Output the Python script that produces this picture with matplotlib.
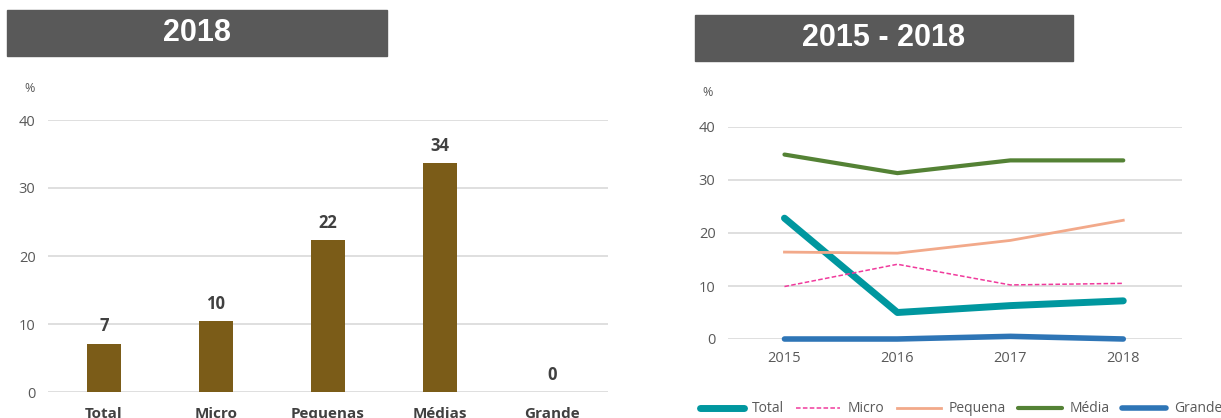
import numpy as np
import matplotlib.pyplot as plt
from matplotlib.patches import Rectangle

# dados 2018
categorias = ['Total', 'Micro', 'Pequenas', 'Médias', 'Grande']
valores_2018 = [7.1, 10.4, 22.3, 33.7, 0.0]

# dados 2015 - 2018
anos = ['2015', '2016', '2017', '2018']
serie_total = [22.8, 5.0, 6.3, 7.2]
serie_micro = [9.9, 14.1, 10.2, 10.5]
serie_pequena = [16.4, 16.2, 18.6, 22.4]
serie_media = [34.8, 31.3, 33.7, 33.7]
serie_grande = [0.0, 0.0, 0.5, 0.0]

CINZA = '#595959'
GRADE = '#D9D9D9'
FONTE = 'Open Sans'

fig = plt.figure(figsize=(12.21, 4.18), dpi=100)

# caixas de titulo
W, H = 1221, 418
def caixa_titulo(x0, y0, x1, y1, texto):
    fig.patches.append(Rectangle((x0 / W, 1 - y1 / H), (x1 - x0) / W, (y1 - y0) / H,
                                 transform=fig.transFigure, color=CINZA, zorder=0))
    fig.text((x0 + x1) / 2 / W, 1 - (y0 + y1) / 2 / H, texto, color='white',
             fontsize=22, fontweight='bold', family='Liberation Sans',
             ha='center', va='center')

caixa_titulo(7, 10, 387, 56, '2018')
caixa_titulo(695, 15, 1073, 61, '2015 - 2018')

# grafico de barras
ax1 = fig.add_axes([48 / W, 1 - 392 / H, 560 / W, 272 / H])
x = np.arange(len(categorias))
ax1.bar(x, valores_2018, width=0.31, color='#7B5C18', zorder=3)
for xi, v in zip(x, valores_2018):
    ax1.annotate(f'{round(v):.0f}', (xi, v), xytext=(0, 6), textcoords='offset points',
                 ha='center', va='bottom', fontsize=12, fontweight='bold',
                 color='#404040', family=FONTE)
ax1.set_xlim(-0.5, 4.5)
ax1.set_ylim(0, 40)
ax1.set_yticks([0, 10, 20, 30, 40])
ax1.set_xticks(x)
ax1.set_xticklabels(categorias, fontsize=11, fontweight='bold', color='#404040', family=FONTE)
ax1.tick_params(axis='x', length=0, pad=11)
ax1.tick_params(axis='y', length=0, pad=9, labelsize=10.5, labelcolor=CINZA)
for lab in ax1.get_yticklabels():
    lab.set_family(FONTE)
ax1.grid(axis='y', color=GRADE, linewidth=1.2, zorder=0)
for s in ax1.spines.values():
    s.set_visible(False)
fig.text(30 / W, 1 - 88 / H, '%', fontsize=9, color=CINZA, ha='center', va='center', family=FONTE)

# grafico de linhas
ax2 = fig.add_axes([728 / W, 1 - 339 / H, 454 / W, 212 / H])
xa = np.arange(len(anos))
ax2.plot(xa, serie_total, color='#00979F', linewidth=5, solid_capstyle='round', label='Total', zorder=3, clip_on=False)
ax2.plot(xa, serie_micro, color='#F03A9C', linewidth=1.1, linestyle=(0, (3, 1.5)), label='Micro', zorder=3, clip_on=False)
ax2.plot(xa, serie_pequena, color='#F2A98A', linewidth=2, label='Pequena', zorder=3, clip_on=False)
ax2.plot(xa, serie_media, color='#548235', linewidth=3, solid_capstyle='round', label='Média', zorder=3, clip_on=False)
ax2.plot(xa, serie_grande, color='#2E75B6', linewidth=4, solid_capstyle='round', label='Grande', zorder=3, clip_on=False)
ax2.set_xlim(-0.5, 3.52)
ax2.set_ylim(0, 40)
ax2.set_yticks([0, 10, 20, 30, 40])
ax2.set_xticks(xa)
ax2.set_xticklabels(anos)
ax2.tick_params(axis='x', length=0, pad=9, labelsize=10.5, labelcolor=CINZA)
ax2.tick_params(axis='y', length=0, pad=9, labelsize=10.5, labelcolor=CINZA)
for lab in ax2.get_xticklabels() + ax2.get_yticklabels():
    lab.set_family(FONTE)
ax2.grid(axis='y', color=GRADE, linewidth=1.2, zorder=0)
for s in ax2.spines.values():
    s.set_visible(False)
fig.text(708 / W, 1 - 93 / H, '%', fontsize=9, color=CINZA, ha='center', va='center', family=FONTE)

leg = fig.legend(loc='center left', bbox_to_anchor=(700 / W, 1 - 409 / H), ncol=5,
                 frameon=False, handlelength=3.2, columnspacing=0.85, handletextpad=0.55,
                 borderaxespad=0, borderpad=0, prop={'family': FONTE, 'size': 10})
for t in leg.get_texts():
    t.set_color(CINZA)

fig.savefig('out.png', dpi=100)
